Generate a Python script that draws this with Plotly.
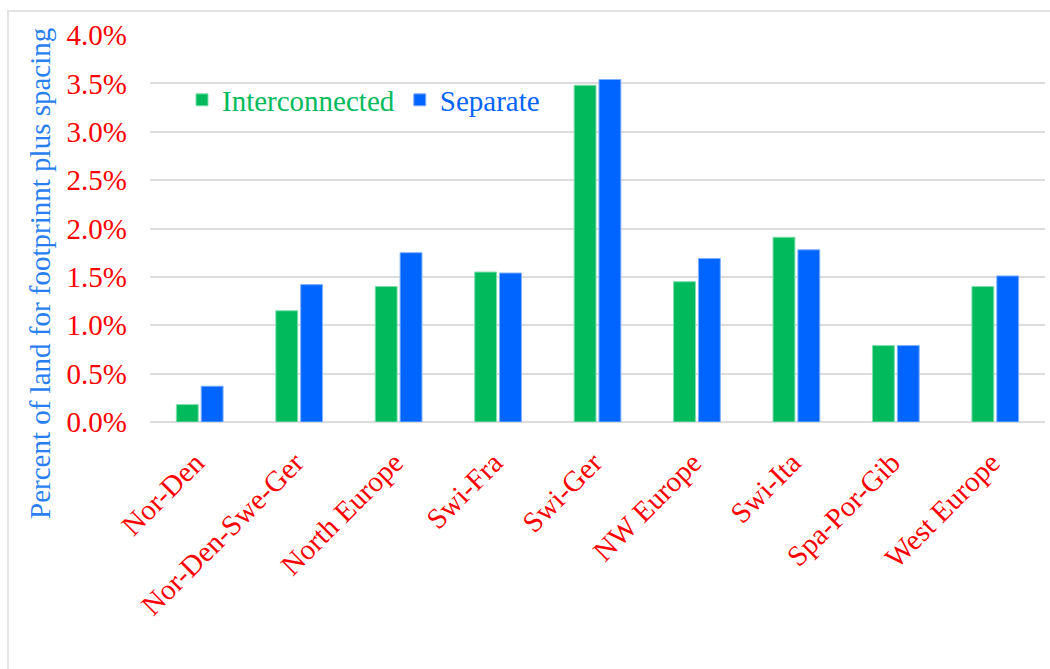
import plotly.graph_objects as go

# Land share (percent) needed for footprint plus spacing, by region
regions = ["Nor-Den", "Nor-Den-Swe-Ger", "North Europe", "Swi-Fra", "Swi-Ger",
           "NW Europe", "Swi-Ita", "Spa-Por-Gib", "West Europe"]
interconnected = [0.18, 1.15, 1.40, 1.55, 3.48, 1.45, 1.91, 0.79, 1.40]
separate = [0.37, 1.42, 1.75, 1.54, 3.54, 1.69, 1.78, 0.79, 1.51]

GREEN = "#00BA5C"
BLUE = "#0064FF"
RED = "#FF0000"
TITLE_BLUE = "#2A7FF0"
FONT = "Liberation Serif, Times New Roman, serif"
FS = 29

W, H = 1050, 669
L, R, T, B = 150, 5, 35, 247
PW, PH = W - L - R, H - T - B


def px_x(x):
    return (x - L) / PW


def px_y(y):
    return (H - B - y) / PH


fig = go.Figure()
fig.add_trace(go.Bar(
    x=regions, y=interconnected,
    name=f"<span style='color:{GREEN}'>Interconnected</span>",
    marker=dict(color=GREEN, line=dict(color="#7FDDAE", width=1)),
))
fig.add_trace(go.Bar(
    x=regions, y=separate,
    name=f"<span style='color:{BLUE}'>Separate</span>",
    marker=dict(color=BLUE, line=dict(color="#7FB0FF", width=1)),
))

fig.update_layout(
    width=W, height=H,
    margin=dict(l=L, r=R, t=T, b=B, autoexpand=False),
    paper_bgcolor="white", plot_bgcolor="white",
    barmode="group", bargap=0.5, bargroupgap=0.12,
    font=dict(family=FONT, size=FS, color=RED),
    showlegend=True,
    legend=dict(
        orientation="h", x=px_x(182), y=px_y(100), xanchor="left", yanchor="middle",
        bgcolor="rgba(0,0,0,0)", font=dict(family=FONT, size=FS),
        itemclick=False, tracegroupgap=0,
    ),
    xaxis=dict(
        tickangle=-45, tickfont=dict(family=FONT, size=FS, color=RED),
        showgrid=False, showline=False, ticks="",
        ticklabelstandoff=17, ticklabelshift=-4,
    ),
    yaxis=dict(
        range=[0, 4.0], dtick=0.5, tickformat=".1f", ticksuffix="%",
        tickfont=dict(family=FONT, size=FS, color=RED),
        showgrid=True, gridcolor="#DCDCDC", gridwidth=2,
        zeroline=True, zerolinecolor="#DCDCDC", zerolinewidth=2,
        ticks="", ticklabelstandoff=22, showline=False,
    ),
    shapes=[dict(
        type="rect", xref="paper", yref="paper",
        x0=px_x(8), x1=px_x(1065), y0=px_y(690), y1=px_y(11),
        line=dict(color="#E3E3E3", width=2), fillcolor="rgba(0,0,0,0)", layer="below",
    )],
    annotations=[dict(
        text="Percent of land for footprinnt plus spacing",
        xref="paper", yref="paper", x=px_x(40), y=px_y(274),
        xanchor="center", yanchor="middle", textangle=-90, showarrow=False,
        font=dict(family=FONT, size=FS, color=TITLE_BLUE),
    )],
)

fig.write_html("out.html")
